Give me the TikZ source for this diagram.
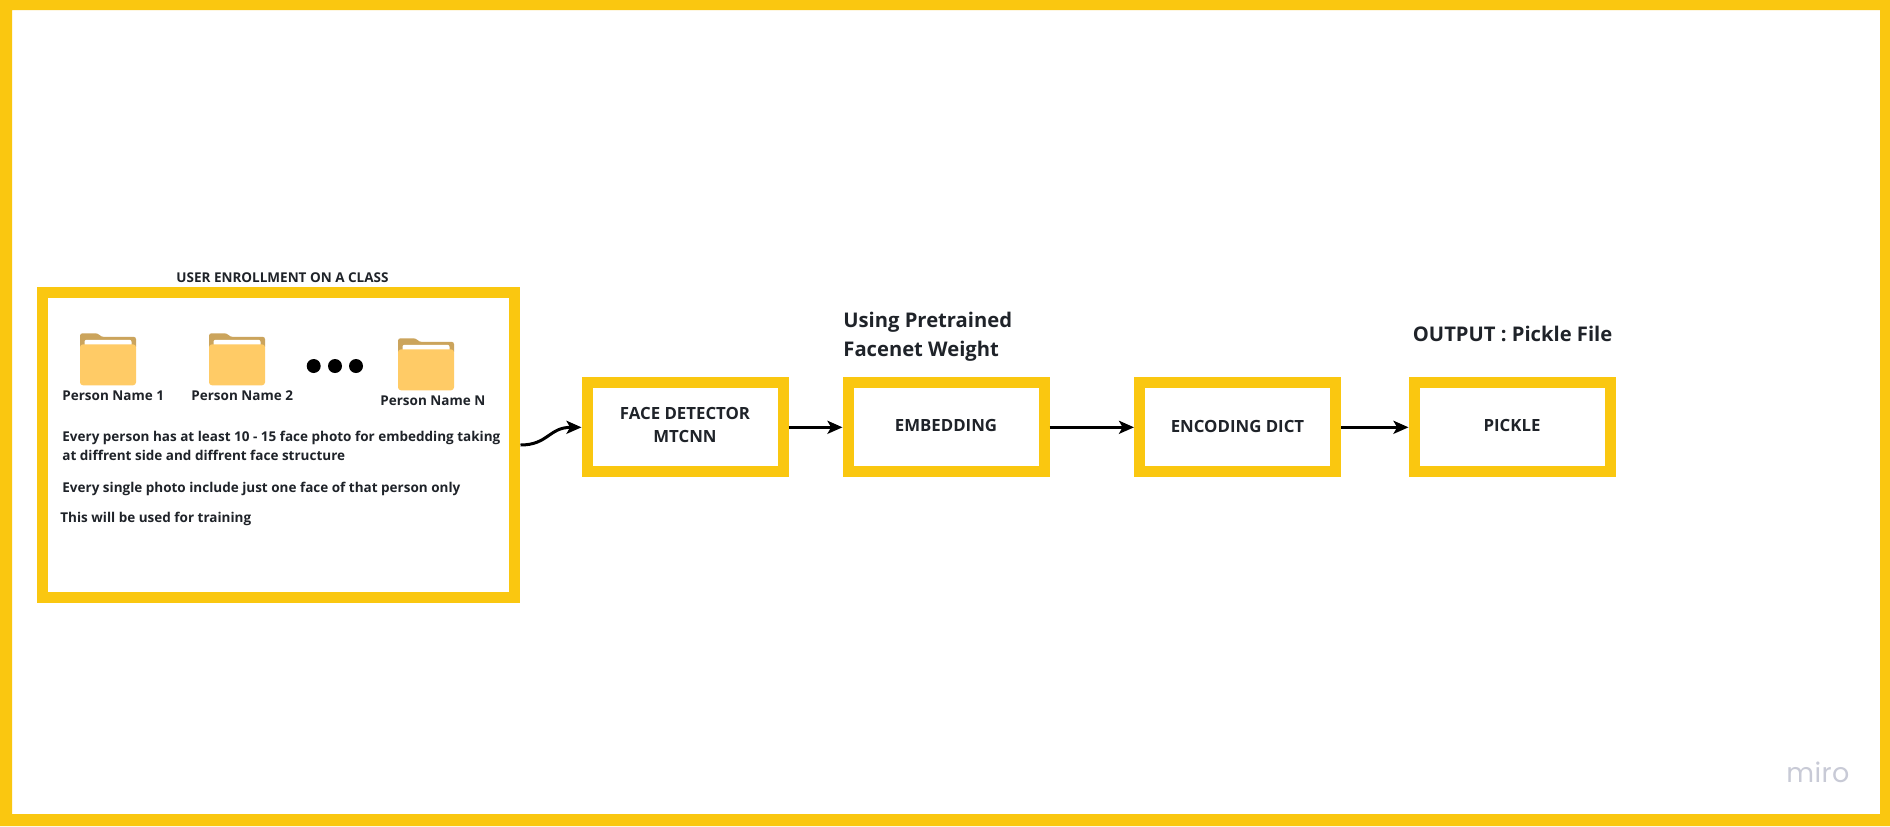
\documentclass[tikz,border=0pt]{standalone}
\usepackage{fontspec}
\setmainfont{Open Sans}
\newfontfamily\logofont[LetterSpace=1.5]{Poppins}
\usetikzlibrary{arrows.meta}
\definecolor{miroyellow}{HTML}{FAC710}
\definecolor{inktext}{HTML}{1F2329}
\definecolor{foldertab}{HTML}{CBA45C}
\definecolor{folderfront}{HTML}{FFCB66}
\definecolor{logogray}{HTML}{C8CAD6}
\newcommand\liftone{\rule[-1.4pt]{0pt}{0pt}}
\newcommand\lifttwo{\rule[-2pt]{0pt}{0pt}}
\tikzset{
  x=0.5pt,y=-0.5pt,
  stage/.style={draw=miroyellow,line width=5.5pt,fill=white,minimum width=98pt,minimum height=44.5pt,inner sep=0pt,
    align=center,text=inktext,font=\fontsize{8.4}{11.5}\selectfont\bfseries},
  bigframe/.style={draw=miroyellow,line width=5.5pt,fill=white,minimum width=236pt,minimum height=152.5pt,inner sep=0pt},
  small/.style={inner sep=0pt,anchor=base west,text=inktext,align=left,font=\fontsize{6.75}{9.8}\selectfont\bfseries},
  headline/.style={inner sep=0pt,anchor=base west,text=inktext,align=left,font=\fontsize{10.1}{15.8}\selectfont\bfseries},
  flow/.style={line width=1.5pt,-{Stealth[length=7.5pt,width=6.5pt,inset=1.8pt]}},
  dot/.style={circle,fill=black,minimum size=7pt,inner sep=0pt},
  folder/.pic={
    \fill[foldertab,rounded corners=1.2pt] (0,16) -- (0,0) -- (18,0) -- (21,3.5) -- (56,3.5) -- (56,16) -- cycle;
    \fill[white,rounded corners=1pt] (4.5,6.5) rectangle (51.5,16);
    \fill[folderfront,rounded corners=1.5pt] (0,52) -- (0,11) -- (56,11) -- (56,52) -- cycle;
  },
}
\begin{document}
\begin{tikzpicture}
\useasboundingbox (0,0) rectangle (1890,826);
\fill[white] (0,0) rectangle (1890,826);
\fill[miroyellow,even odd rule] (0,0) rectangle (1890,826) (12,10) rectangle (1880,814);

\node[bigframe] (enroll) at (278.25,445.3) {};
\node[stage] (face) at (685,427.3) {FACE DETECTOR\\MTCNN\lifttwo};
\node[stage] (embed) at (946,427.3) {EMBEDDING\liftone};
\node[stage] (encode) at (1237.5,427.3) {ENCODING DICT\liftone};
\node[stage] (pickle) at (1512,427.3) {PICKLE\liftone};

\node[small] (title) at (176,282) {USER ENROLLMENT ON A CLASS};
\pic at (80,333.3) {folder};
\pic at (209,333.3) {folder};
\pic at (398,338.3) {folder};
\node[small] (p1) at (62,400) {Person Name 1};
\node[small] (p2) at (191,400) {Person Name 2};
\node[small] (pn) at (380,405.3) {Person Name N};
\node[dot] (d1) at (313.7,366) {};
\node[dot] (d2) at (335,366) {};
\node[dot] (d3) at (356,366) {};
\node[small] (t1) at (62,441.7) {Every person has at least 10 - 15 face photo for embedding taking};
\node[small] (t2) at (62,460) {at diffrent side and diffrent face structure};
\node[small] (t3) at (62,492.7) {Every single photo include just one face of that person only};
\node[small] (t4) at (60,522.7) {This will be used for training};

\node[headline] (using) at (843,327.5) {Using Pretrained};
\node[headline] (facenet) at (843,356) {Facenet Weight};
\node[headline] (output) at (1412.5,341.5) {OUTPUT : Pickle File};

\node[inner sep=0pt,anchor=base west,text=logogray,font=\logofont\fontsize{13.5}{14}\selectfont] (miro) at (1786,782) {miro};

\coordinate (start) at (520.5,445);
\draw[flow] (start) .. controls (548,445) and (549,427.3) .. (face.west);
\draw[flow] (face.east) -- (embed.west);
\draw[flow] (embed.east) -- (encode.west);
\draw[flow] (encode.east) -- (pickle.west);
\end{tikzpicture}
\end{document}
